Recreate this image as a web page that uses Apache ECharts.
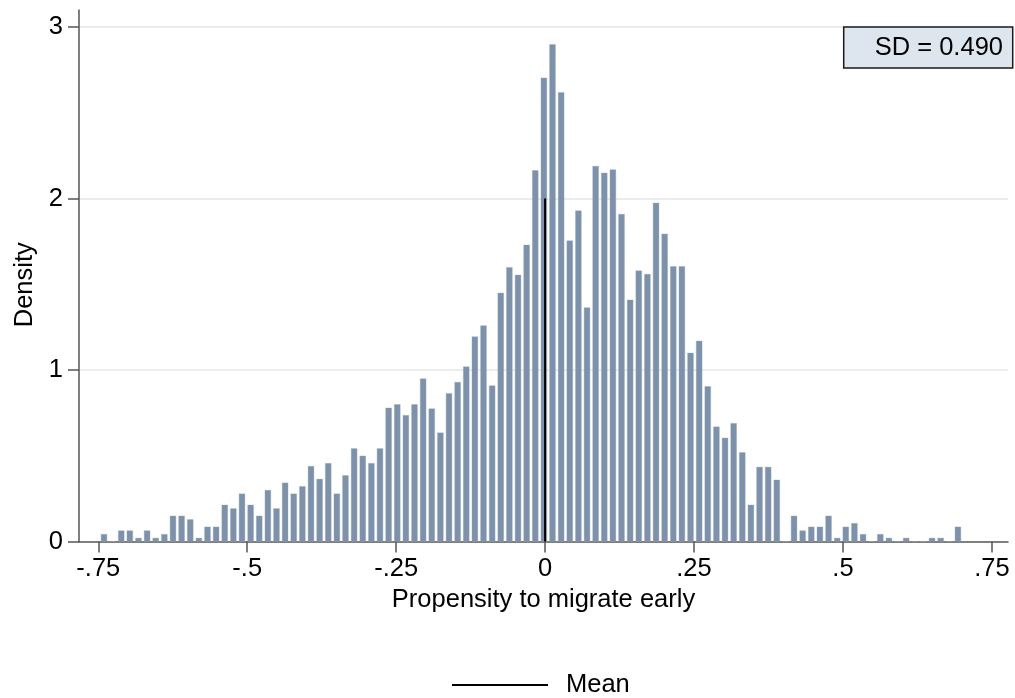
<!DOCTYPE html>
<html>
<head>
<meta charset="utf-8">
<script src="https://cdn.jsdelivr.net/npm/echarts@6/dist/echarts.min.js"></script>
<style>
html,body{margin:0;padding:0;background:#fff;}
#chart{width:1015px;height:698px;}
</style>
</head>
<body>
<div id="chart"></div>
<script>
// Histogram bins (left edge of first bin and bin width)
const binStart = -0.7477;
const binWidth = 0.01448;
// Density of each bin
const density = [
  0.043, 0, 0.064, 0.064, 0.021, 0.064, 0.021, 0.043, 0.150, 0.150,
  0.129, 0.021, 0.086, 0.086, 0.214, 0.193, 0.279, 0.214, 0.150, 0.300,
  0.193, 0.343, 0.279, 0.322, 0.440, 0.365, 0.457, 0.279, 0.386, 0.543,
  0.500, 0.457, 0.543, 0.780, 0.800, 0.737, 0.800, 0.950, 0.775, 0.635,
  0.865, 0.930, 1.020, 1.195, 1.260, 0.910, 1.450, 1.600, 1.555, 1.730,
  2.165, 2.705, 2.900, 2.620, 1.755, 1.930, 1.365, 2.190, 2.150, 2.170,
  1.910, 1.410, 1.580, 1.560, 1.975, 1.795, 1.605, 1.605, 1.100, 1.170,
  0.905, 0.670, 0.605, 0.690, 0.520, 0.214, 0.435, 0.435, 0.360, 0,
  0.150, 0.064, 0.086, 0.086, 0.150, 0.021, 0.086, 0.107, 0.043, 0,
  0.043, 0.021, 0, 0.021, 0, 0, 0.021, 0.021, 0, 0.086
];
const xTickValues = [-0.75, -0.5, -0.25, 0, 0.25, 0.5, 0.75];
const xTickLabels = ['-.75', '-.5', '-.25', '0', '.25', '.5', '.75'];
const yTickValues = [0, 1, 2, 3];
const yTickLabels = ['0', '1', '2', '3'];
const meanValue = 0.0;
const meanLineTop = 2;
const sdText = 'SD = 0.490';
const xTitle = 'Propensity to migrate early';
const yTitle = 'Density';
const legendName = 'Mean';

const FONT = 'Liberation Sans, Arial, Helvetica, sans-serif';
const FS = 25.5;

const barData = density.map((h, i) => [binStart + binWidth * (i + 0.5), h]);
const gridLines = yTickValues.filter(v => v > 0).map(v => ({ yAxis: v }));

function labelFor(values, labels, v) {
  let best = 0;
  for (let i = 0; i < values.length; i++) {
    if (Math.abs(values[i] - v) < Math.abs(values[best] - v)) best = i;
  }
  return labels[best];
}

const chart = echarts.init(document.getElementById('chart'), null, { renderer: 'canvas' });
chart.setOption({
  animation: false,
  backgroundColor: '#ffffff',
  textStyle: { fontFamily: FONT },
  title: {
    text: sdText,
    right: 2,
    top: 27,
    backgroundColor: '#dde6ee',
    borderColor: '#1a1a1a',
    borderWidth: 1.5,
    padding: [6, 10, 6, 31],
    textStyle: { fontFamily: FONT, fontSize: FS, fontWeight: 'normal', color: '#000', lineHeight: 29 }
  },
  legend: {
    data: [{ name: legendName, icon: 'rect' }],
    left: 452,
    top: 672,
    padding: 0,
    itemWidth: 96,
    itemHeight: 2,
    itemStyle: { color: '#000' },
    textStyle: { fontFamily: FONT, fontSize: FS, color: '#000', padding: [0, 0, 0, 13] }
  },
  grid: { left: 79, right: 7, top: 10, bottom: 156.5, containLabel: false },
  xAxis: {
    type: 'value',
    min: -0.7824,
    max: 0.7771,
    name: xTitle,
    nameLocation: 'middle',
    nameGap: 45,
    nameTextStyle: { fontFamily: FONT, fontSize: FS, color: '#000' },
    axisLine: { show: true, lineStyle: { color: '#555', width: 1.5 } },
    axisTick: { show: true, length: 11, lineStyle: { color: '#555', width: 1.5 }, customValues: xTickValues },
    axisLabel: {
      show: true, margin: 14, fontFamily: FONT, fontSize: FS, color: '#000',
      customValues: xTickValues,
      formatter: v => labelFor(xTickValues, xTickLabels, v)
    },
    splitLine: { show: false }
  },
  yAxis: {
    type: 'value',
    min: 0,
    max: 3.1,
    name: yTitle,
    nameLocation: 'middle',
    nameGap: 41,
    nameRotate: 90,
    nameTextStyle: { fontFamily: FONT, fontSize: FS, color: '#000', padding: [0, 18, 0, 0] },
    axisLine: { show: true, onZero: false, lineStyle: { color: '#555', width: 1.5 } },
    axisTick: { show: true, length: 11, lineStyle: { color: '#555', width: 1.5 }, customValues: yTickValues },
    axisLabel: {
      show: true, margin: 16, fontFamily: FONT, fontSize: FS, color: '#000',
      customValues: yTickValues,
      formatter: v => labelFor(yTickValues, yTickLabels, v)
    },
    splitLine: { show: false }
  },
  series: [
    {
      name: 'density',
      type: 'bar',
      data: barData,
      barWidth: 6.2,
      z: 2,
      itemStyle: { color: '#7d92aa', borderColor: '#94a7bb', borderWidth: 0.4 },
      markLine: {
        z: 0,
        silent: true,
        symbol: 'none',
        label: { show: false },
        lineStyle: { color: '#e6e6e6', width: 1.6, type: 'solid' },
        data: gridLines,
        animation: false
      }
    },
    {
      name: legendName,
      type: 'line',
      data: [[meanValue, 0], [meanValue, meanLineTop]],
      symbol: 'none',
      z: 5,
      lineStyle: { color: '#000', width: 2 },
      itemStyle: { color: '#000' }
    }
  ]
});
</script>
</body>
</html>
